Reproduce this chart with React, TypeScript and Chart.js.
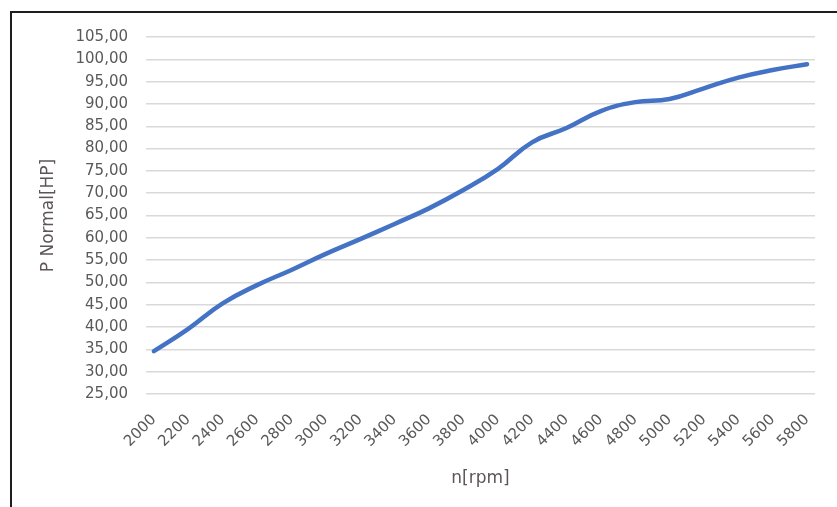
import React, { useEffect, useRef } from "react";
import { Chart, registerables } from "chart.js";

Chart.register(...registerables);

const rpm = [2000, 2200, 2400, 2600, 2800, 3000, 3200, 3400, 3600, 3800, 4000, 4200, 4400, 4600, 4800, 5000, 5200, 5400, 5600, 5800];
const powerHP = [34.6, 39.6, 45.3, 49.4, 52.8, 56.4, 59.7, 63.1, 66.6, 70.7, 75.4, 81.4, 84.6, 88.4, 90.4, 91.1, 93.5, 95.9, 97.6, 98.9];
const yTicks = [25, 30, 35, 40, 45, 50, 55, 60, 65, 70, 75, 80, 85, 90, 95, 100, 105];

export default function App() {
  const ref = useRef<HTMLCanvasElement | null>(null);

  useEffect(() => {
    document.body.style.margin = "0";
    const canvas = ref.current;
    if (!canvas) return;
    const chart = new Chart(canvas, {
      type: "line",
      data: {
        datasets: [
          {
            data: rpm.map((x, i) => ({ x, y: powerHP[i] })),
            borderColor: "#4472C4",
            borderWidth: 4.5,
            pointRadius: 0,
            tension: 0.45,
            fill: false,
            borderCapStyle: "round",
            borderJoinStyle: "round",
          },
        ],
      },
      options: {
        animation: false,
        responsive: false,
        maintainAspectRatio: false,
        layout: { padding: { top: 37, right: 18, bottom: 0, left: 0 } },
        plugins: { legend: { display: false }, tooltip: { enabled: false } },
        scales: {
          x: {
            type: "linear",
            min: 1954,
            max: 5846,
            afterBuildTicks: (s: any) => {
              s.ticks = rpm.map((v) => ({ value: v }));
            },
            afterFit: (s: any) => {
              s.height = 113;
            },
            grid: { display: false, drawTicks: false },
            border: { display: false },
            ticks: {
              autoSkip: false,
              maxRotation: 45,
              minRotation: 45,
              padding: 17,
              color: "#595959",
              font: { family: "DejaVu Sans", size: 15 },
              callback: (v: any) => String(v),
            },
            title: {
              display: true,
              text: "n[rpm]",
              color: "#5e5656",
              font: { family: "DejaVu Sans", size: 17 },
              padding: { top: 0, bottom: 18 },
            },
          },
          y: {
            min: 25,
            max: 105,
            afterBuildTicks: (s: any) => {
              s.ticks = yTicks.map((v) => ({ value: v }));
            },
            afterFit: (s: any) => {
              s.width = 146;
            },
            grid: { color: "#d9d9d9", lineWidth: 1.5, drawTicks: false },
            border: { display: false },
            ticks: {
              padding: 18,
              color: "#595959",
              font: { family: "DejaVu Sans", size: 15 },
              callback: (v: any) => Number(v).toFixed(2).replace(".", ","),
            },
            title: {
              display: true,
              text: "P Normal[HP]",
              color: "#5e5656",
              font: { family: "DejaVu Sans", size: 17 },
              padding: { top: 38, bottom: 0 },
            },
          },
        },
      },
    });
    return () => chart.destroy();
  }, []);

  return (
    <div style={{ position: "relative", width: 837, height: 507, background: "#fff", overflow: "hidden" }}>
      <canvas ref={ref} width={837} height={507} style={{ display: "block" }} />
      <div
        style={{
          position: "absolute",
          left: 10,
          top: 11,
          width: 900,
          height: 600,
          borderLeft: "2px solid #1e1e1e",
          borderTop: "2px solid #1e1e1e",
          pointerEvents: "none",
        }}
      />
    </div>
  );
}
